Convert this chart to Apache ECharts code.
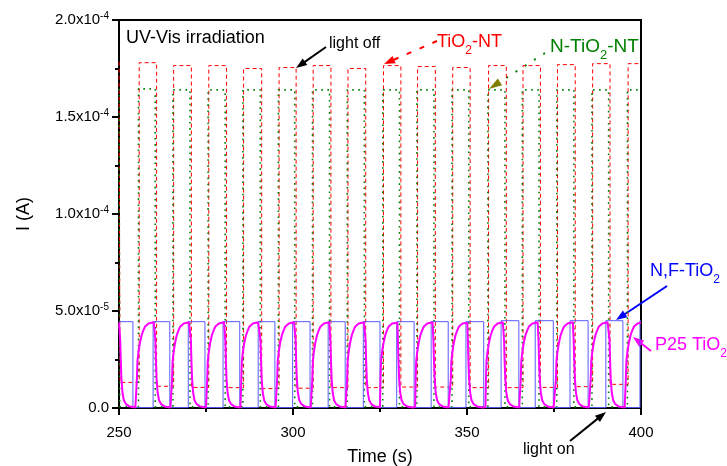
<!DOCTYPE html>
<html>
<head>
<meta charset="utf-8">
<script src="https://cdn.jsdelivr.net/npm/echarts@6/dist/echarts.min.js"></script>
<style>
html, body { margin: 0; padding: 0; background: #fff; }
#chart { width: 727px; height: 466px; }
</style>
</head>
<body>
<div id="chart"></div>
<script>
// TiO2-NT (red dashed) - light switching times (s) and current levels (A)
const ntRise = [255.8, 265.7, 275.8, 285.8, 296.0, 305.8, 315.8, 326.0, 335.8, 345.9, 356.2, 366.1, 376.0, 386.1, 396.3];
const ntFall = [250.3, 260.8, 270.8, 280.9, 291.0, 300.9, 310.9, 320.9, 331.0, 340.9, 350.9, 361.3, 371.1, 381.1, 391.1];
const ntTop = [1.785e-4, 1.78e-4, 1.765e-4, 1.765e-4, 1.75e-4, 1.755e-4, 1.765e-4, 1.75e-4, 1.765e-4, 1.76e-4, 1.755e-4, 1.765e-4, 1.765e-4, 1.77e-4, 1.775e-4, 1.775e-4];
const ntLow = [1.32e-5, 1.12e-5, 1.06e-5, 1.05e-5, 1.0e-5, 1.02e-5, 1.05e-5, 1.05e-5, 1.08e-5, 1.08e-5, 1.05e-5, 1.05e-5, 1.06e-5, 1.1e-5, 1.22e-5];

// N-TiO2-NT (green dotted)
const nntRise = [255.6, 265.5, 275.6, 285.6, 295.8, 305.6, 315.6, 325.8, 335.6, 345.7, 356.0, 365.9, 375.8, 385.9, 396.1];
const nntFall = [250.2, 260.4, 270.4, 280.5, 290.6, 300.5, 310.5, 320.5, 330.6, 340.5, 350.5, 360.9, 370.7, 380.7, 390.7];
const nntTop = [1.645e-4, 1.645e-4, 1.64e-4, 1.64e-4, 1.64e-4, 1.64e-4, 1.64e-4, 1.64e-4, 1.64e-4, 1.64e-4, 1.64e-4, 1.64e-4, 1.64e-4, 1.64e-4, 1.64e-4, 1.64e-4];
const nntLow = [8e-7, 6e-7, 6e-7, 6e-7, 6e-7, 6e-7, 6e-7, 6e-7, 6e-7, 6e-7, 6e-7, 6e-7, 6e-7, 6e-7, 6e-7];

// N,F-TiO2 (blue)
const nfRise = [259.8, 269.9, 279.9, 290.0, 299.9, 310.1, 320.2, 329.8, 339.7, 349.7, 359.8, 369.6, 379.6, 389.9, 399.7];
const nfFall = [254.0, 264.6, 274.7, 284.7, 294.8, 304.9, 315.0, 325.0, 334.8, 344.6, 354.8, 364.9, 374.8, 384.8, 394.8];
const nfTop = [4.45e-5, 4.45e-5, 4.45e-5, 4.45e-5, 4.45e-5, 4.45e-5, 4.45e-5, 4.45e-5, 4.45e-5, 4.45e-5, 4.45e-5, 4.5e-5, 4.5e-5, 4.5e-5, 4.5e-5, 4.5e-5];
const nfLow = [2e-7, 2e-7, 2e-7, 2e-7, 2e-7, 2e-7, 2e-7, 2e-7, 2e-7, 2e-7, 2e-7, 2e-7, 2e-7, 2e-7, 2e-7];

// P25 TiO2 (magenta): on/off times and the shape of one rise / one decay
const p25Rise = [255.0, 265.1, 275.2, 285.0, 295.3, 305.4, 315.4, 325.0, 335.1, 345.2, 355.3, 365.3, 375.4, 385.4, 395.5];
const p25Fall = [250.2, 260.3, 270.5, 280.4, 290.5, 300.6, 310.6, 320.7, 330.0, 340.2, 350.1, 360.5, 370.4, 380.5, 390.8];
const p25RiseDt  = [0, 0.15, 0.3, 0.6, 1.0, 1.5, 2.0, 2.5, 3.0, 3.5, 4.0, 5.0];
const p25RiseVal = [5e-7, 1.5e-5, 2.4e-5, 2.9e-5, 3.35e-5, 3.75e-5, 4.0e-5, 4.2e-5, 4.3e-5, 4.36e-5, 4.4e-5, 4.42e-5];
const p25DecayDt  = [0, 0.15, 0.3, 0.5, 0.8, 1.2, 1.8, 2.8, 4.5];
const p25DecayVal = [4.4e-5, 3.5e-5, 2.5e-5, 1.5e-5, 8e-6, 4e-6, 2e-6, 8e-7, 3e-7];

const xMin = 250, xMax = 400;
const yMax = 2e-4;

const FONT = '"Liberation Sans", Arial, sans-serif';

function square(rise, fall, top, low) {
  const pts = [[xMin, top[0]]];
  for (let i = 0; i < fall.length; i++) {
    pts.push([fall[i], top[i]], [fall[i], low[i]]);
    if (i < rise.length) pts.push([rise[i], low[i]], [rise[i], top[i + 1]]);
  }
  pts.push([xMax, top[top.length - 1]]);
  return pts;
}

function p25Curve() {
  const pts = [[xMin, p25DecayVal[0]]];
  for (let i = 0; i < p25Fall.length; i++) {
    const f = p25Fall[i];
    const nextRise = i < p25Rise.length ? p25Rise[i] : xMax;
    for (let j = 0; j < p25DecayDt.length; j++) {
      const t = f + p25DecayDt[j];
      if (t >= nextRise) break;
      pts.push([t, p25DecayVal[j]]);
    }
    if (i >= p25Rise.length) break;
    const r = p25Rise[i];
    const nextFall = i + 1 < p25Fall.length ? p25Fall[i + 1] : xMax;
    let last = p25RiseVal[0];
    for (let j = 0; j < p25RiseDt.length; j++) {
      const t = r + p25RiseDt[j];
      if (t >= nextFall) break;
      last = p25RiseVal[j];
      pts.push([t, last]);
    }
    pts.push([nextFall, last]);
  }
  return pts;
}

function arrow(x1, y1, x2, y2, color, opts) {
  opts = opts || {};
  const len = opts.head || 11, half = (opts.headW || 8) / 2;
  const dx = x2 - x1, dy = y2 - y1, d = Math.sqrt(dx * dx + dy * dy);
  const ux = dx / d, uy = dy / d;
  const bx = x2 - ux * len, by = y2 - uy * len;
  return {
    type: 'group',
    children: [
      {
        type: 'line',
        shape: { x1: x1, y1: y1, x2: bx + ux * 2, y2: by + uy * 2 },
        style: { stroke: color, lineWidth: opts.width || 2, lineDash: opts.dash || null }
      },
      {
        type: 'polygon',
        shape: { points: [[x2, y2], [bx - uy * half, by + ux * half], [bx + uy * half, by - ux * half]] },
        style: { fill: opts.headColor || color }
      }
    ]
  };
}

function label(x, y, text, color, size, rich) {
  return {
    type: 'text', x: x, y: y,
    style: {
      text: text, fill: color, font: size + 'px ' + FONT,
      verticalAlign: 'middle', rich: rich || undefined
    }
  };
}

function subRich(color, size) {
  return {
    a: { fill: color, fontSize: size, fontFamily: FONT, lineHeight: 30, verticalAlign: 'middle' },
    s: { fill: color, fontSize: Math.round(size * 0.68), fontFamily: FONT, lineHeight: 30, verticalAlign: 'bottom' }
  };
}

const chart = echarts.init(document.getElementById('chart'));
chart.setOption({
  animation: false,
  backgroundColor: '#fff',
  grid: {
    left: 119, right: 86, top: 20, bottom: 58,
    show: true, borderColor: '#000', borderWidth: 2,
    outerBoundsMode: 'none'
  },
  xAxis: {
    type: 'value', min: xMin, max: xMax, interval: 50,
    name: 'Time (s)', nameLocation: 'middle', nameGap: 40,
    nameTextStyle: { color: '#000', fontSize: 18, fontFamily: FONT },
    axisLine: { onZero: false, lineStyle: { color: '#000', width: 2 } },
    axisTick: { length: 7, lineStyle: { color: '#000', width: 2 } },
    minorTick: { show: true, splitNumber: 2, length: 4, lineStyle: { color: '#000', width: 2 } },
    axisLabel: { color: '#000', fontSize: 15, fontFamily: FONT, margin: 17 },
    splitLine: { show: false }
  },
  yAxis: {
    type: 'value', min: 0, max: yMax, interval: 5e-5,
    name: 'I (A)', nameLocation: 'middle', nameGap: 86, nameRotate: 90,
    nameTextStyle: { color: '#000', fontSize: 18, fontFamily: FONT },
    axisLine: { onZero: false, lineStyle: { color: '#000', width: 2 } },
    axisTick: { length: 7, lineStyle: { color: '#000', width: 2 } },
    minorTick: { show: true, splitNumber: 2, length: 4, lineStyle: { color: '#000', width: 2 } },
    axisLabel: {
      color: '#000', fontSize: 15, fontFamily: FONT, margin: 10,
      formatter: function (v) {
        if (v === 0) return '{m|0.0}';
        const p = v.toExponential(1).split('e');
        return '{m|' + p[0] + 'x10}{e|' + p[1] + '}';
      },
      rich: {
        m: { color: '#000', fontSize: 15, fontFamily: FONT, lineHeight: 18 },
        e: { color: '#000', fontSize: 10, fontFamily: FONT, lineHeight: 18, verticalAlign: 'top' }
      }
    },
    splitLine: { show: false }
  },
  series: [
    {
      name: 'TiO2-NT', type: 'line', symbol: 'none', data: square(ntRise, ntFall, ntTop, ntLow),
      lineStyle: { color: '#ff0000', width: 1, type: [4, 3] }
    },
    {
      name: 'N-TiO2-NT', type: 'line', symbol: 'none', data: square(nntRise, nntFall, nntTop, nntLow),
      lineStyle: { color: '#008000', width: 1.6, type: [1.6, 4.5] }
    },
    {
      name: 'N,F-TiO2', type: 'line', symbol: 'none', data: square(nfRise, nfFall, nfTop, nfLow),
      lineStyle: { color: '#5a5aff', width: 1 }
    },
    {
      name: 'P25 TiO2', type: 'line', symbol: 'none', data: p25Curve(),
      lineStyle: { color: '#ff00ff', width: 2 }
    }
  ],
  graphic: [
    label(126, 38, 'UV-Vis irradiation', '#000', 18),
    label(329, 44, 'light off', '#000', 16),
    arrow(326, 47, 296, 68, '#000', { width: 2 }),
    arrow(437, 41, 384, 64, '#ff0000', { width: 2, dash: [5, 9] }),
    label(437, 42, '{a|TiO}{s|2}{a|-NT}', '#ff0000', 18, subRich('#ff0000', 18)),
    arrow(545, 53, 489, 89, '#008000', { width: 2, dash: [2, 9], headColor: '#808000', head: 13, headW: 8 }),
    label(550, 47, '{a|N-TiO}{s|2}{a|-NT}', '#008000', 19, subRich('#008000', 19)),
    label(650, 271, '{a|N,F-TiO}{s|2}', '#0000ff', 18, subRich('#0000ff', 18)),
    arrow(667, 286, 616, 320, '#0000ff', { width: 2 }),
    label(655, 345, '{a|P25 TiO}{s|2}', '#ff00ff', 18, subRich('#ff00ff', 18)),
    arrow(651, 351, 633, 337, '#ff00ff', { width: 2 }),
    label(523, 450, 'light on', '#000', 16),
    arrow(570, 441, 606, 412, '#000', { width: 2 })
  ]
});
</script>
</body>
</html>
